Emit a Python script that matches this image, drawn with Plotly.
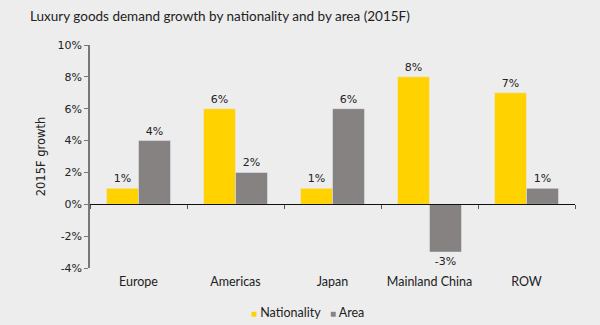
import plotly.graph_objects as go

categories = ["Europe", "Americas", "Japan", "Mainland China", "ROW"]
nationality = [1, 6, 1, 8, 7]
area = [4, 2, 6, -3, 1]
y_ticks = [-4, -2, 0, 2, 4, 6, 8, 10]
series_names = ["Nationality", "Area"]

yellow = "#FFD200"
gray = "#878282"
bg = "#EDEDED"

fig = go.Figure()
fig.add_trace(go.Bar(
    x=categories, y=nationality, name=series_names[0], marker_color=yellow,
    text=[f"{v}%" for v in nationality], textposition="outside", cliponaxis=False,
    textfont=dict(family="DejaVu Sans", size=11, color="#222"), showlegend=False,
))
fig.add_trace(go.Bar(
    x=categories, y=area, name=series_names[1], marker_color=gray,
    text=[f"{v}%" for v in area], textposition="outside", cliponaxis=False,
    textfont=dict(family="DejaVu Sans", size=11, color="#222"), showlegend=False,
))
# zero-line axis with ticks between categories
fig.add_trace(go.Scatter(x=categories, y=[None]*5, xaxis="x2", showlegend=False, hoverinfo="skip"))

legend_text = (f"<span style='color:{yellow};font-size:10px'>■</span> {series_names[0]}"
               f"&nbsp;&nbsp;&nbsp;<span style='color:{gray};font-size:10px'>■</span> {series_names[1]}")

ymin, ymax = -4, 10
fig.update_layout(
    width=600, height=325,
    paper_bgcolor=bg, plot_bgcolor=bg,
    margin=dict(l=90, r=25, t=45, b=57, autoexpand=False),
    barmode="group", bargap=0.34, bargroupgap=0,
    title=dict(text="Luxury goods demand growth by nationality and by area (2015F)",
               x=30/600, xanchor="left", y=1-16/325, yanchor="middle",
               font=dict(family="Lato", size=13.5, color="#222")),
    font=dict(family="DejaVu Sans", size=11, color="#222"),
    xaxis=dict(showline=False, ticks="", showgrid=False, zeroline=False,
               tickfont=dict(family="Lato", size=12.5, color="#222"), ticklabelstandoff=4),
    xaxis2=dict(overlaying="x", anchor="free", position=(0 - ymin) / (ymax - ymin),
                matches="x", showline=True, linecolor="#111", linewidth=1.2,
                ticks="outside", ticklen=4, tickcolor="#555", tickson="boundaries",
                showticklabels=False, showgrid=False, zeroline=False),
    yaxis=dict(range=[ymin, ymax], tickvals=y_ticks,
               ticktext=[f"{v}%" for v in y_ticks],
               showline=True, linecolor="#777", linewidth=1.5,
               ticks="outside", ticklen=4, tickcolor="#777",
               showgrid=False, zeroline=False,
               title=dict(text="2015F growth", standoff=10,
                          font=dict(family="DejaVu Sans", size=11.5, color="#222")),
               tickfont=dict(family="DejaVu Sans", size=11, color="#222")),
    annotations=[dict(text=legend_text, x=307/600, xref="paper", xanchor="center",
                      y=1 - 312/325, yref="paper", yanchor="middle", showarrow=False,
                      font=dict(family="Lato", size=12.5, color="#222"))],
)
# annotation y in paper coords relative to plot area: convert container pixel to paper fraction
plot_h = 325 - 45 - 57
fig.layout.annotations[0].y = (325 - 57 - 312) / plot_h
fig.layout.annotations[0].x = (307 - 90) / (600 - 90 - 25)
fig.write_html("out.html")
